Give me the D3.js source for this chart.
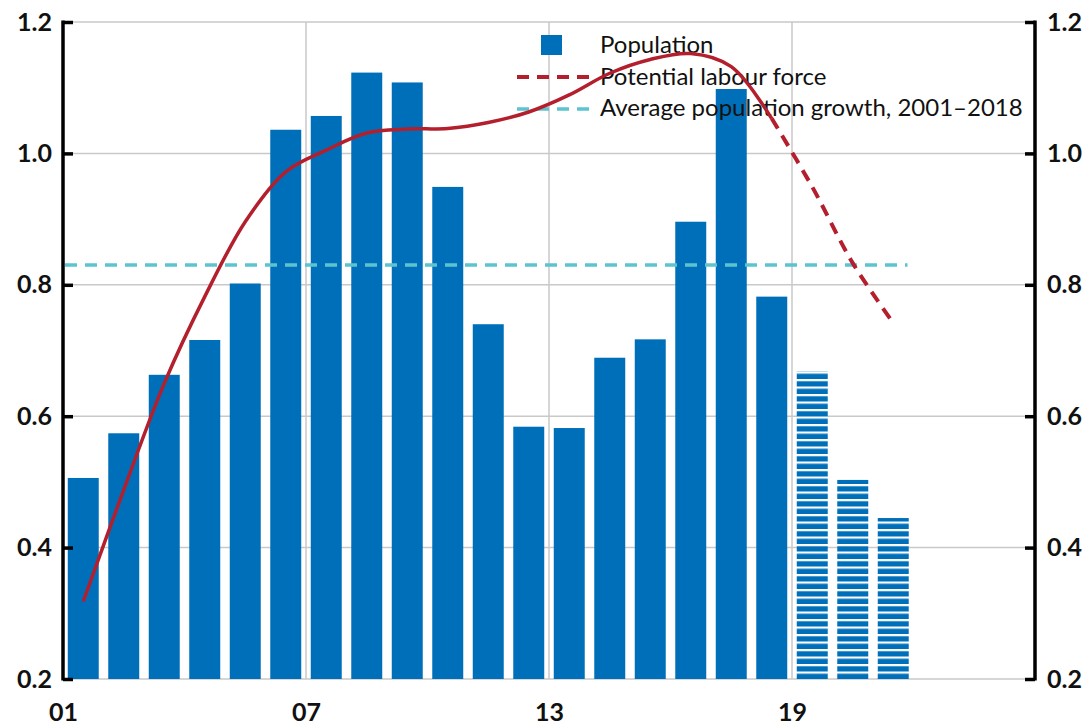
<!DOCTYPE html>
<html>
<head>
<meta charset="utf-8">
<script src="https://cdn.jsdelivr.net/npm/d3@7"></script>
<style>
  html, body { margin: 0; padding: 0; background: #fff; }
  svg { display: block; }
</style>
</head>
<body>
<svg id="chart" width="1086" height="725"></svg>
<script>
// ---- data ----
const years = d3.range(2001, 2025);            // axis bands 2001..2024
const popYears = d3.range(2001, 2022);         // bars 2001..2021
const population = [0.506, 0.574, 0.663, 0.716, 0.802, 1.036, 1.057, 1.123, 1.108, 0.949,
                    0.740, 0.584, 0.582, 0.689, 0.717, 0.896, 1.098, 0.782,
                    0.668, 0.503, 0.445];
const projectedFrom = 2019;                    // hatched (projection) bars
const labourYears = d3.range(2001, 2022);
const labour = [0.318, 0.488, 0.650, 0.782, 0.896, 0.972, 1.005, 1.031, 1.037, 1.038,
                1.047, 1.063, 1.089, 1.122, 1.143, 1.152, 1.132, 1.053,
                0.949, 0.833, 0.742];
const labourDashedFrom = 2018;
const avgGrowth = 0.83;
const avgRange = [2001, 2022];
const yTicks = [0.2, 0.4, 0.6, 0.8, 1.0, 1.2];
const xTickYears = [2001, 2007, 2013, 2019];
const legendLabels = ["Population", "Potential labour force", "Average population growth, 2001\u20132018"];

// ---- layout ----
const svg = d3.select("#chart");
const L = 63, R = 1035, T = 22, B = 679;
const BLUE = "#006fb9", RED = "#b41f2d", CYAN = "#5cc3cf", GRID = "#c9c9c9";
const FONT = "Lato, 'Open Sans', sans-serif";

const x = d3.scaleBand().domain(years).range([L, R]).paddingInner(0.235).paddingOuter(0.1175);
const xEdge = d3.scaleLinear().domain([2001, 2025]).range([L, R]);
const y = d3.scaleLinear().domain([0.2, 1.2]).range([B, T]);

// hatch pattern
const defs = svg.append("defs");
const pat = defs.append("pattern").attr("id", "hatch").attr("patternUnits", "userSpaceOnUse")
  .attr("width", 10).attr("height", 7.5).attr("y", B);
pat.append("rect").attr("x", 0).attr("y", 0).attr("width", 10).attr("height", 7.5).attr("fill", "#fff");
pat.append("rect").attr("x", 0).attr("y", 2.2).attr("width", 10).attr("height", 5.3).attr("fill", BLUE);

// gridlines
const grid = svg.append("g");
grid.selectAll("line.h").data(yTicks).join("line")
  .attr("x1", L).attr("x2", R).attr("y1", d => y(d)).attr("y2", d => y(d))
  .attr("stroke", GRID).attr("stroke-width", 1.5);
grid.selectAll("line.v").data(xTickYears.slice(1)).join("line")
  .attr("x1", d => xEdge(d)).attr("x2", d => xEdge(d)).attr("y1", T).attr("y2", B)
  .attr("stroke", GRID).attr("stroke-width", 1.5);

// bars
svg.append("g").selectAll("rect").data(popYears.map((yr, i) => ({ yr, v: population[i] }))).join("rect")
  .attr("x", d => x(d.yr)).attr("width", x.bandwidth())
  .attr("y", d => y(d.v)).attr("height", d => B - y(d.v))
  .attr("fill", d => d.yr >= projectedFrom ? "url(#hatch)" : BLUE);

// legend
const lg = svg.append("g").attr("font-family", FONT).attr("font-size", 24).attr("fill", "#111");
lg.append("rect").attr("x", 541).attr("y", 35).attr("width", 21).attr("height", 20).attr("fill", BLUE);
lg.append("line").attr("x1", 517).attr("x2", 590).attr("y1", 77).attr("y2", 77)
  .attr("stroke", RED).attr("stroke-width", 4).attr("stroke-dasharray", "12,8");
lg.append("line").attr("x1", 517).attr("x2", 590).attr("y1", 109).attr("y2", 109)
  .attr("stroke", CYAN).attr("stroke-width", 3.5).attr("stroke-dasharray", "12,8");
lg.selectAll("text").data(legendLabels).join("text")
  .attr("x", 600).attr("y", (d, i) => 53 + i * 31.5).text(d => d);

// average line
svg.append("line")
  .attr("x1", xEdge(avgRange[0]) + 2).attr("x2", xEdge(avgRange[1]) - 6)
  .attr("y1", y(avgGrowth)).attr("y2", y(avgGrowth))
  .attr("stroke", CYAN).attr("stroke-width", 3.5).attr("stroke-dasharray", "12,8");

// labour force line
const lpts = labourYears.map((yr, i) => ({ yr, v: labour[i] }));
const line = d3.line().x(d => x(d.yr) + x.bandwidth() / 2).y(d => y(d.v)).curve(d3.curveCatmullRom.alpha(0.5));
svg.append("path").datum(lpts.filter(d => d.yr <= labourDashedFrom)).attr("d", line)
  .attr("fill", "none").attr("stroke", RED).attr("stroke-width", 3.5).attr("stroke-linejoin", "round");
svg.append("path").datum(lpts.filter(d => d.yr >= labourDashedFrom)).attr("d", line)
  .attr("fill", "none").attr("stroke", RED).attr("stroke-width", 4).attr("stroke-dasharray", "12,8");

// axes
const axL = svg.append("g").attr("transform", `translate(${L},0)`)
  .call(d3.axisRight(y).tickValues(yTicks).tickSize(10).tickFormat(d3.format(".1f")));
const axR = svg.append("g").attr("transform", `translate(${R},0)`)
  .call(d3.axisLeft(y).tickValues(yTicks).tickSize(10).tickFormat(d3.format(".1f")));
[axL, axR].forEach(g => {
  g.select(".domain").attr("stroke", "#000").attr("stroke-width", 3.5).attr("d", `M0,${T - 1.5}V${B + 1.5}`);
  g.selectAll(".tick line").attr("stroke", "#000").attr("stroke-width", 3.5);
  g.selectAll("text").attr("font-family", FONT).attr("font-size", 25).attr("font-weight", "bold").attr("fill", "#111");
});
axL.selectAll("text").attr("x", -11).attr("text-anchor", "end");
axR.selectAll("text").attr("x", 12).attr("text-anchor", "start");

const axB = svg.append("g").attr("transform", `translate(0,${B})`)
  .call(d3.axisBottom(xEdge).tickValues(xTickYears).tickSize(0).tickFormat(d => String(d).slice(2)));
axB.select(".domain").remove();
axB.selectAll("text").attr("y", 24).attr("font-family", FONT).attr("font-size", 25)
  .attr("font-weight", "bold").attr("fill", "#111");
</script>
</body>
</html>
